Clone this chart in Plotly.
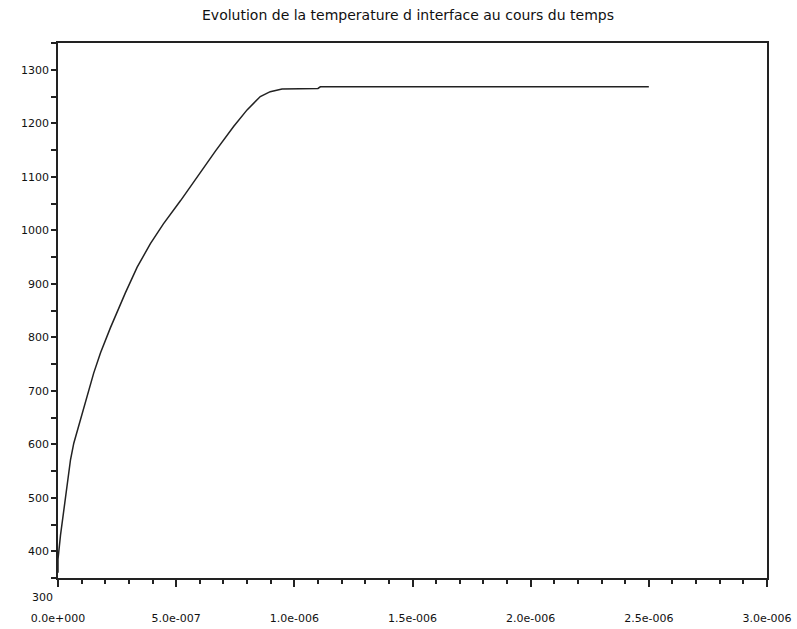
import plotly.graph_objects as go

# Time (s) and interface temperature
time_s = [0.0, 0.0, 1.06e-8, 2.2e-8, 3.17e-8, 4.14e-8, 5.29e-8, 6.68e-8, 8.12e-8,
          1.066e-7, 1.30e-7, 1.51e-7, 1.80e-7, 2.22e-7, 2.85e-7, 3.35e-7, 3.91e-7,
          4.46e-7, 5.18e-7, 5.89e-7, 6.66e-7, 7.43e-7, 8.0e-7, 8.56e-7, 8.98e-7,
          9.48e-7, 1.10e-6, 1.11e-6, 2.5e-6]
temperature = [360, 385, 430, 471, 505, 539, 571, 602, 625,
               662, 701, 733, 771, 818, 883, 931, 975,
               1012, 1055, 1100, 1148, 1194, 1225, 1250, 1259,
               1264, 1265, 1268, 1268]

x_tickvals = [0.0, 5e-7, 1e-6, 1.5e-6, 2e-6, 2.5e-6, 3e-6]
x_ticktext = ["0.0e+000", "5.0e-007", "1.0e-006", "1.5e-006", "2.0e-006", "2.5e-006", "3.0e-006"]
y_tickvals = [400, 500, 600, 700, 800, 900, 1000, 1100, 1200, 1300]
y_range = [350, 1350]
extra_y_label = 300

title = "Evolution de la temperature d interface au cours du temps"

fam = "DejaVu Sans, Verdana, sans-serif"
tick_font = dict(family=fam, size=11, color="#111")

fig = go.Figure()
fig.add_trace(go.Scatter(x=time_s, y=temperature, mode="lines",
                         line=dict(color="#222", width=1.5),
                         showlegend=False))

fig.update_layout(
    width=797, height=629,
    margin=dict(l=58, r=30, t=43, b=51),
    paper_bgcolor="white", plot_bgcolor="white",
    font=tick_font,
    title=dict(text=title, x=408 / 797, xanchor="center",
               y=1 - 15 / 629, yanchor="middle",
               font=dict(family=fam, size=14, color="#111")),
    xaxis=dict(range=[0, 3e-6], tickvals=x_tickvals, ticktext=x_ticktext,
               ticks="outside", ticklen=7, tickwidth=1.5, tickcolor="#222",
               showline=True, linecolor="#222", linewidth=1.5, mirror=True,
               showgrid=False, zeroline=False, ticklabelstandoff=22,
               automargin=False, tickfont=tick_font,
               minor=dict(dtick=1e-7, tick0=0, ticks="outside", ticklen=4,
                          tickwidth=1.5, tickcolor="#222", showgrid=False)),
    yaxis=dict(range=y_range, tickvals=y_tickvals,
               ticks="outside", ticklen=5, tickwidth=1.5, tickcolor="#222",
               showline=True, linecolor="#222", linewidth=1.5, mirror=True,
               showgrid=False, zeroline=False, automargin=False, tickfont=tick_font,
               minor=dict(dtick=50, tick0=350, ticks="outside", ticklen=5,
                          tickwidth=1.5, tickcolor="#222", showgrid=False)),
)

# "300" tick label drawn below the axis, as in the original chart
fig.add_annotation(x=0, xref="paper",
                   y=(extra_y_label - y_range[0]) / (y_range[1] - y_range[0]), yref="paper",
                   text=str(extra_y_label), showarrow=False,
                   xanchor="right", yanchor="middle", xshift=-3, yshift=7,
                   font=tick_font)

fig.write_html("out.html", config={"displayModeBar": False},
               post_script="document.body.style.margin='0';document.body.style.overflow='hidden';")
